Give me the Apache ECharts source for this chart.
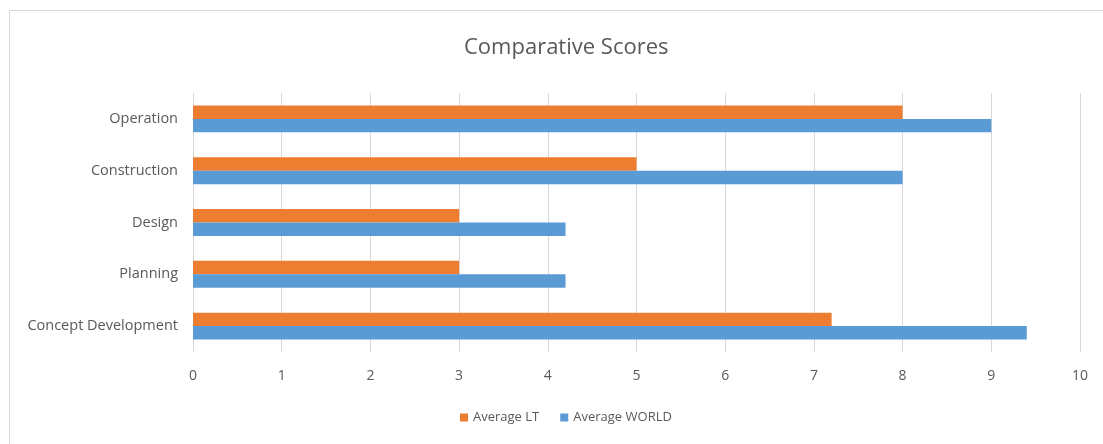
<!DOCTYPE html>
<html>
<head>
<meta charset="utf-8">
<script src="https://cdn.jsdelivr.net/npm/echarts@6/dist/echarts.min.js"></script>
<style>
  html, body { margin: 0; padding: 0; background: #fff; }
  #chart { width: 1103px; height: 444px; }
</style>
</head>
<body>
<div id="chart"></div>
<script>
// categories, bottom to top
const categories = ['Concept Development', 'Planning', 'Design', 'Construction', 'Operation']
const averageLT = [7.2, 3, 3, 5, 8]
const averageWorld = [9.4, 4.2, 4.2, 8, 9]
const xTicks = [0, 1, 2, 3, 4, 5, 6, 7, 8, 9, 10]

const chart = echarts.init(document.getElementById('chart'))

const textColor = '#595959'
const font = "'Open Sans', 'Noto Sans', sans-serif"

const option = {
  animation: false,
  textStyle: { fontFamily: font },
  // frame round the chart area
  graphic: [
    {
      type: 'rect',
      shape: { x: 9.5, y: 10.5, width: 1200, height: 600 },
      style: { fill: 'none', stroke: '#d9d9d9', lineWidth: 1 },
      silent: true,
    },
  ],
  title: {
    text: 'Comparative Scores',
    left: 459,
    top: 32,
    textStyle: { color: textColor, fontSize: 22, fontWeight: 'normal', fontFamily: font },
  },
  legend: {
    bottom: 15,
    left: 455,
    itemWidth: 8,
    itemHeight: 8,
    itemGap: 21,
    icon: 'rect',
    textStyle: { color: textColor, fontSize: 13, fontFamily: font },
    data: ['Average LT', 'Average WORLD'],
  },
  grid: {
    left: 193,
    right: 23,
    top: 93,
    bottom: 92,
  },
  xAxis: {
    type: 'value',
    min: xTicks[0],
    max: xTicks[xTicks.length - 1],
    interval: 1,
    axisLine: { show: false },
    axisTick: { show: false },
    axisLabel: { color: textColor, fontSize: 14, margin: 17, fontFamily: font },
    splitLine: { lineStyle: { color: '#d9d9d9', width: 1 } },
  },
  yAxis: {
    type: 'category',
    data: categories,
    axisLine: { show: false },
    axisTick: { show: false },
    axisLabel: { color: textColor, fontSize: 14.5, margin: 15, fontFamily: font },
  },
  series: [
    {
      name: 'Average LT',
      type: 'bar',
      data: averageLT,
      barGap: '0%',
      barCategoryGap: '48%',
      itemStyle: { color: '#ed7d31' },
    },
    {
      name: 'Average WORLD',
      type: 'bar',
      data: averageWorld,
      barGap: '0%',
      barCategoryGap: '48%',
      itemStyle: { color: '#5b9bd5' },
    },
  ],
}

chart.setOption(option)
</script>
</body>
</html>
